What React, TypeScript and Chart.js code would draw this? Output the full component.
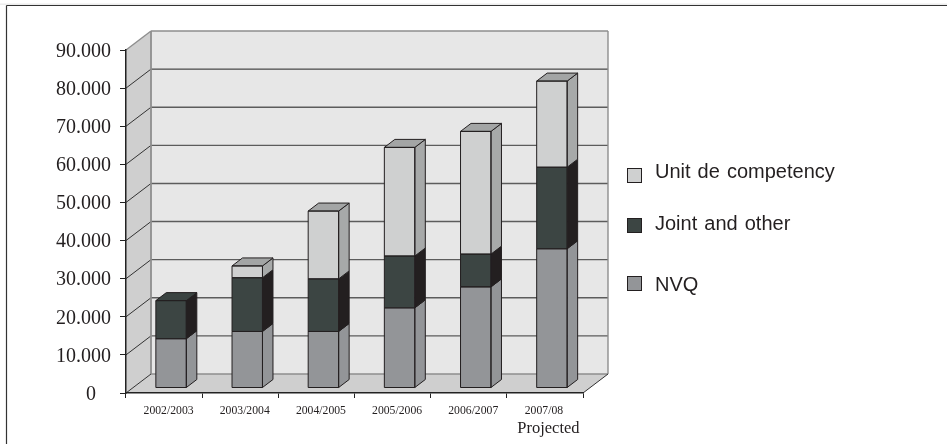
import React, { useEffect, useRef } from "react";
import { Chart, registerables } from "chart.js";

Chart.register(...registerables);

const categories = ["2002/2003", "2003/2004", "2004/2005", "2005/2006", "2006/2007", "2007/08"];
const nvq = [12930, 14830, 14830, 21030, 26530, 36530];
const jointAndOther = [10000, 14100, 13800, 13600, 8600, 21400];
const unitDeCompetency = [0, 3100, 17800, 28500, 32200, 22600];
const yTickStep = 10000;
const yMax = 90000;
const projectedNote = "Projected";

const styles = [
  { front: "#939598", side: "#939598", top: "#8f9192" },
  { front: "#3c4543", side: "#231f20", top: "#3a4341" },
  { front: "#cfd0d0", side: "#a7a9a9", top: "#a3a5a5" },
];

const wall = { dx: 25, dy: -19 };
const bar3d = { dx: 10.5, dy: -8 };
const barShift = { dx: 7, dy: -5 };
const ink = "#231f20";
const serif = '"Liberation Serif"';
const sans = '"Liberation Sans"';

const poly = (ctx: CanvasRenderingContext2D, pts: number[][], fill: string | null, stroke: string | null, lw = 1) => {
  ctx.beginPath();
  pts.forEach((p, i) => (i ? ctx.lineTo(p[0], p[1]) : ctx.moveTo(p[0], p[1])));
  ctx.closePath();
  if (fill) { ctx.fillStyle = fill; ctx.fill(); }
  if (stroke) { ctx.strokeStyle = stroke; ctx.lineWidth = lw; ctx.stroke(); }
};

const line = (ctx: CanvasRenderingContext2D, x1: number, y1: number, x2: number, y2: number, c: string, lw: number) => {
  ctx.beginPath();
  ctx.moveTo(x1, y1);
  ctx.lineTo(x2, y2);
  ctx.strokeStyle = c;
  ctx.lineWidth = lw;
  ctx.stroke();
};

const scene = {
  id: "scene",
  beforeDraw(chart: any) {
    const { ctx, chartArea: a, scales } = chart;
    const y = scales.y;
    const b = { l: a.left + wall.dx, r: a.right + wall.dx, t: a.top + wall.dy, bt: a.bottom + wall.dy };
    ctx.save();
    // page: a faint strip above the frame, then a top and a left rule only
    ctx.fillStyle = "#ffffff";
    ctx.fillRect(0, 0, chart.width, chart.height);
    ctx.fillStyle = "#ececec";
    ctx.fillRect(0, 3.5, chart.width, 1.5);
    line(ctx, 6.5, 5.5, chart.width, 5.5, "#333333", 1.2);
    line(ctx, 6.5, 5.5, 6.5, chart.height, "#333333", 1.2);
    // walls and floor
    poly(ctx, [[b.l, b.t], [b.r, b.t], [b.r, b.bt], [b.l, b.bt]], "#e7e7e7", null);
    poly(ctx, [[a.left, a.top], [b.l, b.t], [b.l, b.bt], [a.left, a.bottom]], "#cfcfcf", null);
    poly(ctx, [[a.left, a.bottom], [a.right, a.bottom], [b.r, b.bt], [b.l, b.bt]], "#cfcfcf", null);
    // grid on the walls
    for (let v = yTickStep; v < yMax; v += yTickStep) {
      const py = y.getPixelForValue(v);
      const top = v === 80000;
      line(ctx, b.l, py + wall.dy, b.r, py + wall.dy, top ? "#222222" : "#5c5c5c", top ? 1 : 1.4);
      line(ctx, a.left, py, b.l, py + wall.dy, "#333333", 1);
    }
    line(ctx, a.left, a.top, b.l, b.t, "#8e8e8e", 1.4);
    line(ctx, b.l, b.t, b.r, b.t, "#8e8e8e", 1.6);
    line(ctx, b.r, b.t, b.r, b.bt, "#8e8e8e", 1.4);
    line(ctx, b.l, b.t, b.l, b.bt, "#8e8e8e", 1.8);
    line(ctx, b.l, b.bt, b.r, b.bt, "#8e8e8e", 1.4);
    line(ctx, a.left, a.bottom, b.l, b.bt, "#333333", 1);
    line(ctx, a.right, a.bottom, b.r, b.bt, "#333333", 1);
    ctx.restore();
    // the last category label is not shifted like the others; the zero label sits further left
    const xs = scales.x;
    const items = xs.getLabelItems(a);
    const last = items[items.length - 1];
    if (last) last.options.translation[0] = xs.getPixelForTick(items.length - 1) - 1;
    const yItems = y.getLabelItems(a);
    if (yItems[0]) yItems[0].options.translation[0] = 96;
  },
  beforeDatasetsDraw(chart: any) {
    chart.ctx.save();
    chart.ctx.translate(barShift.dx, barShift.dy);
  },
  afterDatasetsDraw(chart: any) {
    const { ctx } = chart;
    const n = chart.data.labels.length;
    for (let i = 0; i < n; i++) {
      let topDs = -1;
      chart.data.datasets.forEach((d: any, di: number) => {
        if (d.data[i] > 0) topDs = di;
      });
      chart.data.datasets.forEach((d: any, di: number) => {
        if (!(d.data[i] > 0)) return;
        const el = chart.getDatasetMeta(di).data[i];
        const right = el.x + el.width / 2;
        const left = el.x - el.width / 2;
        const st = styles[di];
        poly(ctx, [[right, el.base], [right + bar3d.dx, el.base + bar3d.dy], [right + bar3d.dx, el.y + bar3d.dy], [right, el.y]], st.side, ink, 1);
        if (di === topDs) {
          poly(ctx, [[left, el.y], [left + bar3d.dx, el.y + bar3d.dy], [right + bar3d.dx, el.y + bar3d.dy], [right, el.y]], st.top, ink, 1);
        }
        poly(ctx, [[left, el.y], [right, el.y], [right, el.base], [left, el.base]], null, ink, 1);
      });
    }
    ctx.restore();
  },
  afterDraw(chart: any) {
    const { ctx, scales } = chart;
    ctx.save();
    // Projected note below the last tick label
    ctx.fillStyle = ink;
    ctx.font = `16.5px ${serif}`;
    ctx.textAlign = "center";
    ctx.textBaseline = "middle";
    ctx.fillText(projectedNote, scales.x.getPixelForTick(categories.length - 1) + 3.5, 429);
    // legend, top entry = top of the stack
    const rows = [
      { ds: 2, y: 175.5, ty: 172 },
      { ds: 1, y: 225.5, ty: 224 },
      { ds: 0, y: 283.5, ty: 285 },
    ];
    ctx.textAlign = "left";
    ctx.font = `20px ${sans}`;
    (ctx as any).wordSpacing = "1.5px";
    rows.forEach((r) => {
      ctx.fillStyle = styles[r.ds].front;
      ctx.fillRect(627.5, r.y - 7, 14, 14);
      ctx.strokeStyle = ink;
      ctx.lineWidth = 1;
      ctx.strokeRect(627.5, r.y - 7, 14, 14);
      ctx.fillStyle = ink;
      ctx.fillText(chart.data.datasets[r.ds].label, 655, r.ty);
    });
    ctx.restore();
  },
};

export default function App() {
  const ref = useRef<HTMLCanvasElement>(null);
  useEffect(() => {
    document.body.style.margin = "0";
    const chart = new Chart(ref.current as HTMLCanvasElement, {
      type: "bar",
      data: {
        labels: categories,
        datasets: [
          { label: "NVQ", data: nvq, backgroundColor: styles[0].front },
          { label: "Joint and other", data: jointAndOther, backgroundColor: styles[1].front },
          { label: "Unit de competency", data: unitDeCompetency, backgroundColor: styles[2].front },
        ].map((d) => ({
          ...d,
          borderWidth: 0,
          clip: false,
          categoryPercentage: 1,
          barPercentage: 0.4,
        })) as any,
      },
      options: {
        animation: false,
        responsive: false,
        devicePixelRatio: 1,
        layout: { padding: { left: 0, right: 364, top: 50, bottom: 0 } },
        plugins: { legend: { display: false }, title: { display: false }, tooltip: { enabled: false } },
        scales: {
          x: {
            stacked: true,
            afterFit: (s: any) => { s.height = 51; },
            grid: { drawOnChartArea: false, drawTicks: true, tickLength: 5, color: "#222222", offset: true },
            border: { color: "#222222", width: 1.5 },
            ticks: {
              color: ink,
              font: { family: serif, size: 11.7 },
              maxRotation: 0,
              autoSkip: false,
              labelOffset: 4.5,
              padding: 5.5,
            },
          },
          y: {
            stacked: true,
            min: 0,
            max: yMax,
            afterFit: (s: any) => { s.width = 126; },
            grid: { drawOnChartArea: false, drawTicks: true, tickLength: 6, color: "#222222" },
            border: { color: "#222222", width: 1.5 },
            ticks: {
              stepSize: yTickStep,
              color: ink,
              font: { family: serif, size: 20 },
              padding: 9,
              labelOffset: 1.5,
              callback: (v: any) => (v === 0 ? "0" : `${v / 1000}.000`),
            },
          },
        },
      },
      plugins: [scene],
    } as any);
    return () => chart.destroy();
  }, []);
  return <canvas ref={ref} width={947} height={444} style={{ display: "block" }} />;
}
